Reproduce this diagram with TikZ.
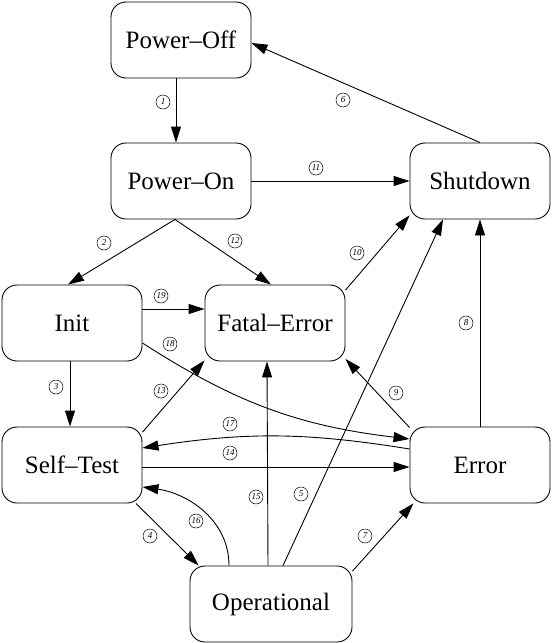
\documentclass[tikz,border=0pt]{standalone}
\usepackage{fontspec}
\setmainfont{Liberation Serif}
\usetikzlibrary{arrows.meta}
\tikzstyle{state} = [rectangle, draw, rounded corners=15pt, minimum width=140pt, minimum height=76pt, font=\fontsize{25}{30}\selectfont]
\tikzstyle{num} = [circle, draw, line width=0.5pt, inner sep=0pt, minimum size=14pt, font=\fontsize{9}{9}\selectfont\itshape]

\begin{document}
\begin{tikzpicture}[x=1pt, y=-1pt, line width=0.9pt, >={Triangle[length=16pt,width=10pt]}]
    \useasboundingbox (0,0) rectangle (552,643);
    \node [state] (poff) at (181,40) {Power--Off};
    \node [state] (pon) at (181,181) {Power--On};
    \node [state] (shut) at (480,181) {Shutdown};
    \node [state] (init) at (72,323) {Init};
    \node [state] (fatal) at (275,323) {Fatal--Error};
    \node [state] (self) at (72,465) {Self--Test};
    \node [state] (err) at (480,465) {Error};
    \node [state, minimum width=162pt] (oper) at (271,604) {Operational};

    % power off <-> power on
    \draw [->] ([xshift=-5pt]poff.south) -- ([xshift=-5pt]pon.north);
    \draw [->] (shut.north) -- ([yshift=-3pt]poff.east);
    \draw [->] (pon) -- (shut);
    \draw [->] ([xshift=-6pt]pon.south) -- ([xshift=-4pt]init.north);
    \draw [->] ([xshift=-6pt]pon.south) -- ([xshift=-4pt]fatal.north);
    % into shutdown
    \draw [->] (fatal.25) -- (shut.206);
    \draw [->] (err) -- (shut);
    \draw [->] ([xshift=12pt]oper.north) -- ([xshift=-37pt]shut.south);
    % init
    \draw [->] ([yshift=14pt]init.east) -- ([yshift=14pt]fatal.west);
    \draw [->] ([yshift=-20pt]init.east) to [bend right=13] ([yshift=26pt]err.west);
    \draw [->] ([xshift=-2pt]init.south) -- ([xshift=-2pt]self.north);
    % self-test
    \draw [->] (self.25) -- (fatal.208);
    \draw [->] ([yshift=-2pt]self.east) -- ([yshift=-2pt]err.west);
    \draw [->] (self.-31) -- (oper.152);
    % error
    \draw [->] (err.152) -- (fatal.-27);
    \draw [->] ([yshift=16pt]err.west) to [bend right=9] ([yshift=17pt]self.east);
    % operational
    \draw [->] ([xshift=-3pt]oper.north) -- ([xshift=-8pt]fatal.south);
    \draw [->] ([xshift=-42pt]oper.north) to [out=90, in=-8] ([yshift=-22pt]self.east);
    \draw [->] (oper.22) -- (err.210);

    % transition numbers
    \node [num] (n1) at (163,102) {1};
    \node [num] (n2) at (104,243) {2};
    \node [num] (n3) at (56,387) {3};
    \node [num] (n4) at (150,536) {4};
    \node [num] (n5) at (301,494) {5};
    \node [num] (n6) at (343,100) {6};
    \node [num] (n7) at (365,536) {7};
    \node [num] (n8) at (466,323) {8};
    \node [num] (n9) at (396,393) {9};
    \node [num] (n10) at (357,253) {10};
    \node [num] (n11) at (316,168) {11};
    \node [num] (n12) at (235,241) {12};
    \node [num] (n13) at (161,391) {13};
    \node [num] (n14) at (230,453) {14};
    \node [num] (n15) at (256,497) {15};
    \node [num] (n16) at (196,521) {16};
    \node [num] (n17) at (230,424) {17};
    \node [num] (n18) at (170,344) {18};
    \node [num] (n19) at (161,296) {19};
\end{tikzpicture}
\end{document}
